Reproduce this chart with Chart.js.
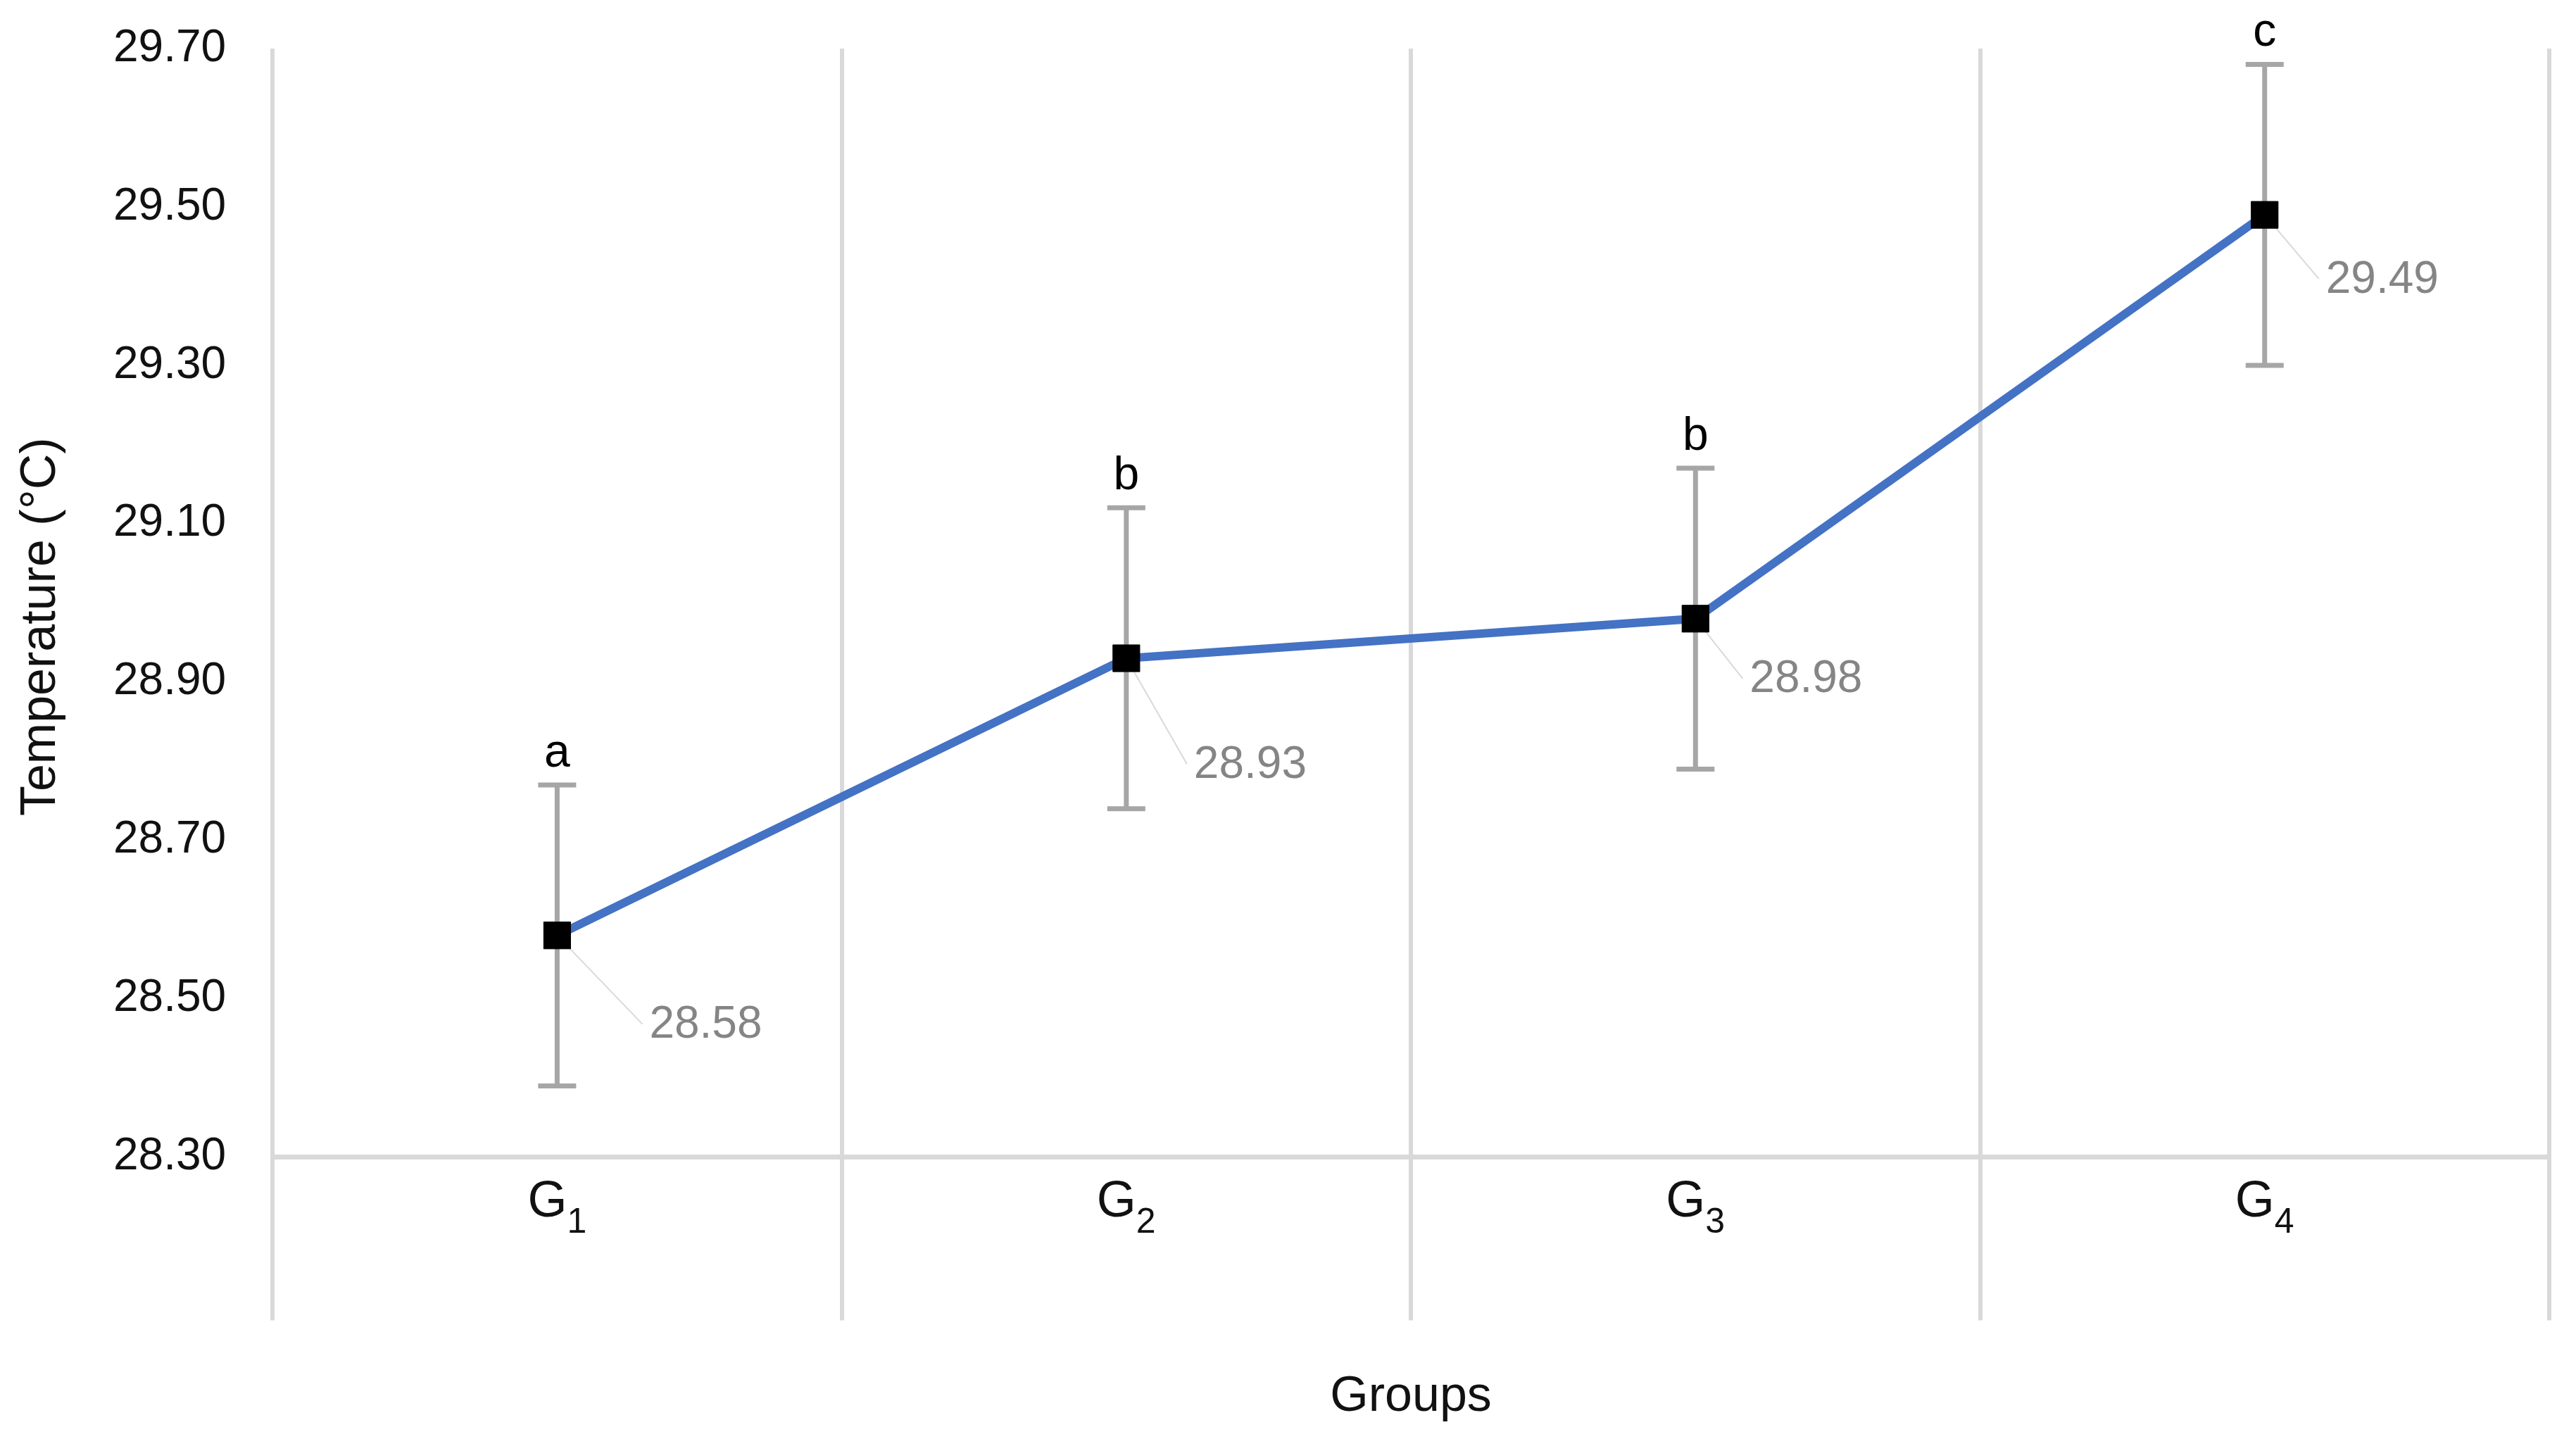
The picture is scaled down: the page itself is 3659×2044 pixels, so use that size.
<!DOCTYPE html>
<html>
<head>
<meta charset="utf-8">
<script src="https://cdn.jsdelivr.net/npm/chart.js@4.4.1/dist/chart.umd.min.js"></script>
<style>
  html, body { margin: 0; padding: 0; background: #ffffff; }
  #wrap { width: 3659px; height: 2044px; }
</style>
</head>
<body>
<div id="wrap"><canvas id="chart" width="3659" height="2044"></canvas></div>
<script>
// ---- data ----
const categories = ['G1', 'G2', 'G3', 'G4'];
const means = [28.58, 28.93, 28.98, 29.49];
const errors = [0.19, 0.19, 0.19, 0.19];
const letters = ['a', 'b', 'b', 'c'];
const yTicks = [28.30, 28.50, 28.70, 28.90, 29.10, 29.30, 29.50, 29.70];
const yTitle = 'Temperature (°C)';
const xTitle = 'Groups';

const FONT = "'Liberation Sans', Arial, sans-serif";
Chart.defaults.font.family = FONT;

const annotations = {
  id: 'annotations',
  beforeDatasetsDraw(chart, args, opts) {
    const { ctx, scales: { y } } = chart;
    const pts = chart.getDatasetMeta(0).data;
    ctx.save();
    // leader lines
    ctx.strokeStyle = opts.leaderColor;
    ctx.lineWidth = 2;
    pts.forEach((p, i) => {
      const [dx, dy] = opts.offsets[i];
      ctx.beginPath();
      ctx.moveTo(p.x, p.y);
      ctx.lineTo(p.x + dx - 10, p.y + dy - 2);
      ctx.stroke();
    });
    // error bars
    ctx.strokeStyle = opts.errColor;
    ctx.lineWidth = opts.errWidth;
    pts.forEach((p, i) => {
      const yt = y.getPixelForValue(means[i] + errors[i]);
      const yb = y.getPixelForValue(means[i] - errors[i]);
      ctx.beginPath();
      ctx.moveTo(p.x, yt); ctx.lineTo(p.x, yb);
      ctx.moveTo(p.x - opts.cap, yt); ctx.lineTo(p.x + opts.cap, yt);
      ctx.moveTo(p.x - opts.cap, yb); ctx.lineTo(p.x + opts.cap, yb);
      ctx.stroke();
    });
    ctx.restore();
  },
  afterDatasetsDraw(chart, args, opts) {
    const { ctx, chartArea, scales: { x, y } } = chart;
    const pts = chart.getDatasetMeta(0).data;
    ctx.save();
    // value labels
    ctx.font = "64px " + FONT;
    ctx.fillStyle = opts.labelColor;
    ctx.textAlign = 'left';
    ctx.textBaseline = 'middle';
    pts.forEach((p, i) => {
      const [dx, dy] = opts.offsets[i];
      ctx.fillText(means[i].toFixed(2), p.x + dx, p.y + dy);
    });
    // significance letters
    ctx.font = "66px " + FONT;
    ctx.fillStyle = '#000000';
    ctx.textAlign = 'center';
    ctx.textBaseline = 'alphabetic';
    pts.forEach((p, i) => {
      const yt = y.getPixelForValue(means[i] + errors[i]);
      ctx.fillText(letters[i], p.x, yt - 26);
    });
    // subscript part of the category labels
    const tOpts = x.options.ticks;
    const tSize = tOpts.font.size;
    const labelMid = x.top + x.options.grid.tickLength + tOpts.padding + tSize * 1.2 / 2;
    ctx.font = tSize + "px " + FONT;
    const gWidth = ctx.measureText('G').width;
    ctx.font = opts.subSize + "px " + FONT;
    ctx.fillStyle = '#111111';
    ctx.textAlign = 'left';
    ctx.textBaseline = 'alphabetic';
    categories.forEach((c, i) => {
      const px = x.getPixelForTick(i) + tOpts.labelOffset + gWidth / 2;
      ctx.fillText(c.slice(1), px, labelMid + 0.3465 * tSize + opts.subDrop);
    });
    // y axis title
    ctx.save();
    ctx.translate(chartArea.left - opts.yTitleGap, (chartArea.top + chartArea.bottom) / 2 + opts.yTitleShift);
    ctx.rotate(-Math.PI / 2);
    ctx.font = "70px " + FONT;
    ctx.fillStyle = '#111111';
    ctx.textAlign = 'center';
    ctx.textBaseline = 'middle';
    ctx.fillText(yTitle, 0, 0);
    ctx.restore();
    ctx.restore();
  }
};

new Chart(document.getElementById('chart'), {
  type: 'line',
  data: {
    labels: categories,
    datasets: [{
      data: means,
      borderColor: '#4472C4',
      borderWidth: 12,
      pointStyle: 'rect',
      pointRadius: 27,
      pointBackgroundColor: '#000000',
      pointBorderColor: '#000000',
      pointBorderWidth: 1,
      tension: 0,
      fill: false
    }]
  },
  options: {
    responsive: false,
    maintainAspectRatio: false,
    devicePixelRatio: 1,
    animation: false,
    layout: { padding: { top: 69, right: 38, left: 103, bottom: 0 } },
    plugins: {
      legend: { display: false },
      tooltip: { enabled: false },
      annotations: {
        errColor: '#a6a6a6',
        errWidth: 7,
        cap: 27,
        leaderColor: '#d9d9d9',
        labelColor: '#858585',
        subSize: 50,
        subDrop: 18,
        yTitleGap: 328,
        yTitleShift: 34,
        offsets: [[131, 128], [96, 152], [77, 87], [87, 93]]
      }
    },
    scales: {
      x: {
        offset: true,
        grid: {
          offset: true,
          color: '#d9d9d9',
          lineWidth: 6,
          drawTicks: true,
          tickLength: 232,
          tickColor: '#d9d9d9',
          tickWidth: 6
        },
        border: { display: true, color: '#d9d9d9', width: 7 },
        ticks: {
          padding: -211,
          labelOffset: -14,
          color: '#111111',
          font: { size: 72 },
          callback: (v, i) => categories[i].charAt(0)
        },
        title: {
          display: true,
          text: xTitle,
          color: '#111111',
          font: { size: 70 },
          padding: { top: 403, bottom: 17 }
        }
      },
      y: {
        min: 28.3,
        max: 29.7,
        afterBuildTicks: (scale) => { scale.ticks = yTicks.map(v => ({ value: v })); },
        afterFit: (scale) => { scale.paddingTop = 0; scale.paddingBottom = 0; },
        grid: { display: false },
        border: { display: false },
        ticks: {
          padding: 58,
          color: '#111111',
          font: { size: 64 },
          callback: (v) => Number(v).toFixed(2)
        },
        title: { display: false }
      }
    }
  },
  plugins: [annotations]
});
</script>
</body>
</html>
